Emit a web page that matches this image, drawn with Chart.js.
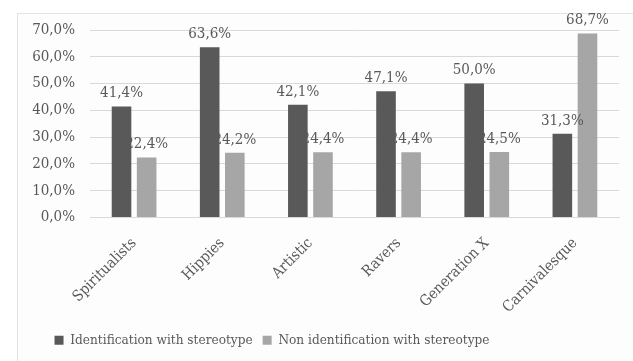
<!DOCTYPE html>
<html>
<head>
<meta charset="utf-8">
<script src="https://cdn.jsdelivr.net/npm/chart.js@4/dist/chart.umd.min.js"></script>
<style>
  html, body { margin: 0; padding: 0; background: #ffffff; }
  #wrap { width: 633px; height: 361px; position: relative; }
</style>
</head>
<body>
<div id="wrap"><canvas id="c" width="633" height="361"></canvas></div>
<script>
// Stereotype groups on the x axis
const categories = ['Spiritualists', 'Hippies', 'Artistic', 'Ravers', 'Generation X', 'Carnivalesque'];
// Share of respondents (%)
const identification = [41.4, 63.6, 42.1, 47.1, 50.0, 31.3];
const nonIdentification = [22.4, 24.2, 24.4, 24.4, 24.5, 68.7];
// Value axis ticks
const yTicks = [0, 10, 20, 30, 40, 50, 60, 70];

const TEXT = '#595959';
const FONT = '"DejaVu Serif Condensed", "DejaVu Serif", serif';

const fmt = v => v.toFixed(1).replace('.', ',') + '%';

// Light frame around the whole chart
const framePlugin = {
  id: 'frame',
  beforeDraw(chart) {
    const ctx = chart.ctx;
    ctx.save();
    ctx.fillStyle = '#ffffff';
    ctx.fillRect(0, 0, chart.width, chart.height);
    ctx.fillStyle = '#fdfdfd';
    ctx.fillRect(17, 13, chart.width - 17, chart.height - 13);
    ctx.strokeStyle = '#e3e3e3';
    ctx.lineWidth = 1;
    ctx.strokeRect(17.5, 13.5, chart.width, chart.height);
    ctx.restore();
  }
};

// Value labels above each bar
const valueLabels = {
  id: 'valueLabels',
  afterDatasetsDraw(chart) {
    const ctx = chart.ctx;
    ctx.save();
    ctx.font = '15px ' + FONT;
    ctx.fillStyle = TEXT;
    ctx.textAlign = 'center';
    ctx.textBaseline = 'middle';
    chart.data.datasets.forEach((ds, i) => {
      chart.getDatasetMeta(i).data.forEach((bar, j) => {
        ctx.fillText(fmt(ds.data[j]), bar.x, bar.y - 13);
      });
    });
    ctx.restore();
  }
};

// Place the legend block slightly left of centre
const legendShift = {
  id: 'legendShift',
  afterLayout(chart) {
    const lg = chart.legend;
    if (lg) {
      lg.left = 17;
      lg.right = 527;
      lg.width = lg.right - lg.left;
    }
  }
};

new Chart(document.getElementById('c'), {
  type: 'bar',
  data: {
    labels: categories,
    datasets: [
      { label: 'Identification with stereotype', data: identification, backgroundColor: '#595959' },
      { label: 'Non identification with stereotype', data: nonIdentification, backgroundColor: '#a6a6a6' }
    ]
  },
  options: {
    responsive: false,
    animation: false,
    devicePixelRatio: 1,
    layout: { padding: { left: 18, right: 14, top: 30, bottom: 4 } },
    datasets: { bar: { categoryPercentage: 0.57, barPercentage: 0.78 } },
    plugins: {
      legend: {
        position: 'bottom',
        align: 'center',
        labels: {
          color: TEXT,
          font: { family: FONT, size: 13.5 },
          boxWidth: 9,
          boxHeight: 9,
          padding: 10
        }
      },
      tooltip: { enabled: false }
    },
    scales: {
      x: {
        grid: { display: false },
        border: { color: '#d9d9d9' },
        ticks: {
          color: TEXT,
          font: { family: FONT, size: 15 },
          minRotation: 45,
          maxRotation: 45,
          padding: 9
        },
        afterFit(scale) { scale.height = 106; }
      },
      y: {
        min: 0,
        max: 70,
        afterBuildTicks(scale) { scale.ticks = yTicks.map(v => ({ value: v })); },
        grid: { color: '#d9d9d9', drawTicks: false },
        border: { display: false },
        ticks: {
          color: TEXT,
          font: { family: FONT, size: 15 },
          padding: 15,
          callback: v => fmt(v)
        },
        afterFit(scale) { scale.width = 72; }
      }
    }
  },
  plugins: [framePlugin, valueLabels, legendShift]
});
</script>
</body>
</html>
